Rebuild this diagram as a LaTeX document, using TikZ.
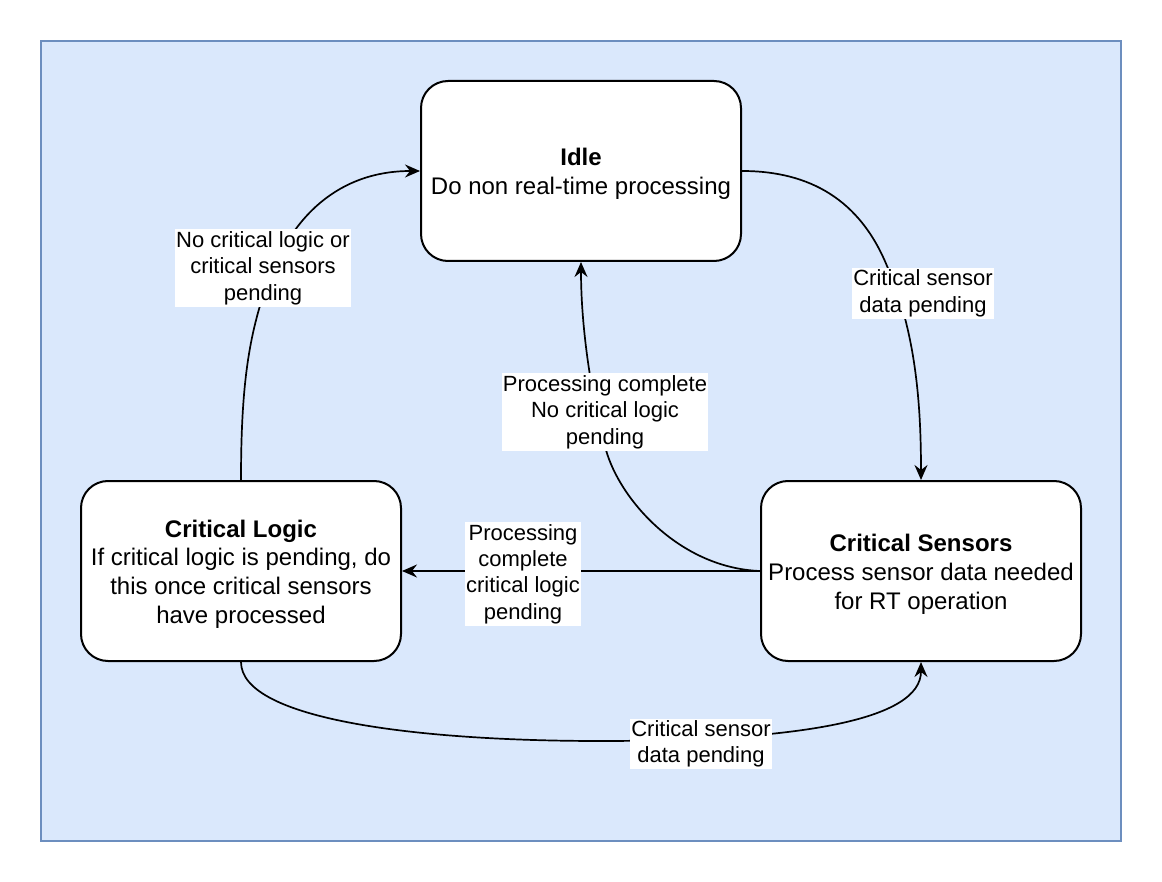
\documentclass[tikz,border=0pt]{standalone}
\usepackage{fontspec}
\setmainfont{Liberation Sans}
\usetikzlibrary{arrows.meta}
\definecolor{bgfill}{HTML}{DAE8FC}
\definecolor{bgline}{HTML}{6C8EBF}
\tikzset{
  statebox/.style={draw=black, line width=2pt, fill=white, rounded corners=27pt,
    minimum width=320pt, minimum height=180pt, align=center, inner sep=0pt,
    font=\fontsize{24}{28.8}\selectfont},
  lbl/.style={fill=white, align=center, inner xsep=1pt, inner ysep=2pt,
    font=\fontsize{22}{26.4}\selectfont},
  edge/.style={line width=1.7pt, -{Stealth[length=15pt,width=13pt,inset=5pt]}}
}
\begin{document}
\begin{tikzpicture}[x=1pt,y=-1pt]
\useasboundingbox (0,0) rectangle (1162,882);
\draw[bgline, fill=bgfill, line width=2pt] (41,41) rectangle (1121,841);

\node[statebox] (idle) at (581,171) {};
\node[statebox] (logic) at (241,571) {};
\node[statebox] (sens) at (921,571) {};
\node[align=center, inner sep=0pt, font=\fontsize{24}{28.8}\selectfont] (idleT) at (581,174) {\textbf{Idle}\\Do non real-time processing};
\node[align=center, inner sep=0pt, font=\fontsize{24}{28.8}\selectfont] (logicT2) at (241,574) {\textbf{Critical Logic}\\If critical logic is pending, do\\this once critical sensors\\have processed};
\node[align=center, inner sep=0pt, font=\fontsize{24}{28.8}\selectfont] (sensT2) at (921,574) {\textbf{Critical Sensors}\\Process sensor data needed\\for RT operation};

\coordinate (idleR) at (idle.east);
\coordinate (idleL) at (idle.west);
\coordinate (idleB) at (idle.south);
\coordinate (logicT) at (logic.north);
\coordinate (logicB) at (logic.south);
\coordinate (logicR) at (logic.east);
\coordinate (sensT) at (sens.north);
\coordinate (sensB) at (sens.south);
\coordinate (sensL) at (sens.west);

% Idle -> Critical Sensors
\draw[edge] (idleR) .. controls (810,171) and (860,200) .. (887,266)
  .. controls (915,330) and (921,400) .. (sensT);
\node[lbl] (l1) at (923,293.5) {Critical sensor\\data pending};

% Critical Sensors -> Critical Logic
\draw[edge] (sensL) -- (logicR);
\node[lbl] (l2) at (523,574) {Processing\\complete\\critical logic\\pending};

% Critical Sensors -> Idle
\draw[edge] (sensL) .. controls (680,568) and (620,500) .. (606,450)
  .. controls (592,400) and (581,330) .. (idleB);
\node[lbl] (l3) at (605,412) {Processing complete\\No critical logic\\pending};

% Critical Logic -> Idle
\draw[edge] (logicT) .. controls (241,390) and (248,340) .. (265,290)
  .. controls (290,215) and (340,171) .. (idleL);
\node[lbl] (l4) at (263,268) {No critical logic or\\critical sensors\\pending};

% Critical Logic -> Critical Sensors
\draw[edge] (logicB) .. controls (241,720) and (420,741) .. (600,741)
  .. controls (800,741) and (921,720) .. (sensB);
\node[lbl] (l5) at (701,744) {Critical sensor\\data pending};
\end{tikzpicture}
\end{document}
